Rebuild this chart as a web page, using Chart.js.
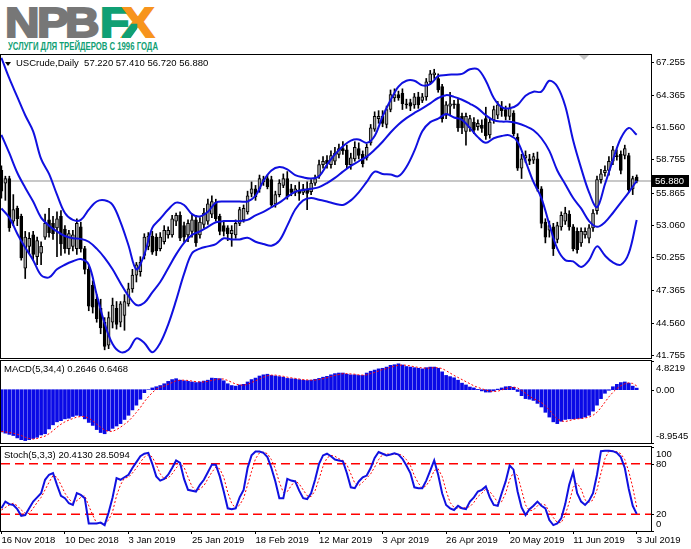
<!DOCTYPE html>
<html>
<head>
<meta charset="utf-8">
<script src="https://cdn.jsdelivr.net/npm/chart.js@4.4.1/dist/chart.umd.min.js"></script>
<style>
  body { margin: 0; background: #fff; width: 691px; height: 549px; overflow: hidden; position: relative; }
  canvas { position: absolute; left: 0; }
  .lg { position: absolute; top: 2px; font: bold 42px/42px "Liberation Sans", Arial, sans-serif; transform: scaleX(1.14); transform-origin: 0 0; -webkit-text-stroke: 2px currentColor; }
  .leg { clip-path: polygon(0% 52%, 48% 52%, 48% 100%, 0% 100%); }
  #tag { position: absolute; left: 8px; top: 40px; font: bold 11px/12px "Liberation Sans Narrow", "Liberation Sans", Arial, sans-serif; color: #10a074; white-space: nowrap; transform-origin: 0 0; }
</style>
</head>
<body>
<div class="lg" style="left:5px;color:#777777">N</div>
<div class="lg" style="left:37px;color:#777777">P</div>
<div class="lg" style="left:65px;color:#777777">B</div>
<div class="lg" style="left:100px;color:#10a074">F</div>
<div class="lg" style="left:122px;color:#f7941d">X</div>
<div class="lg leg" style="left:122px;color:#10a074">X</div>
<div id="tag">УСЛУГИ ДЛЯ ТРЕЙДЕРОВ С 1996 ГОДА</div>

<canvas id="price" width="691" height="305" style="top:54px"></canvas>
<canvas id="macd" width="691" height="84" style="top:360px"></canvas>
<canvas id="stoch" width="691" height="103" style="top:446px"></canvas>

<script>
// USCrude daily, 16 Nov 2018 .. 3 Jul 2019 (161 bars)
const openP = [
  57.8, 56.7, 57.1, 53.4, 54.5, 53.8, 49.3, 51.2, 52.2, 50.3,
  50.6, 52.0, 53.5, 53.2, 52.8, 53.8, 52.7, 51.0, 51.2, 51.0,
  52.9, 51.0, 49.2, 47.8, 46.6, 45.8, 44.6, 42.6, 44.6, 45.8,
  44.6, 45.2, 46.2, 47.5, 48.7, 49.0, 50.4, 51.2, 52.1, 52.0,
  51.0, 51.6, 52.2, 52.2, 53.4, 53.9, 53.0, 52.2, 52.5, 53.5,
  52.2, 53.1, 53.4, 54.0, 55.0, 53.8, 53.0, 52.8, 52.3, 52.2,
  53.2, 53.5, 54.2, 55.8, 56.2, 56.2, 56.8, 57.1, 57.0, 54.9,
  55.7, 56.5, 57.1, 56.2, 55.9, 56.1, 55.9, 56.2, 55.95, 56.7,
  57.3, 58.3, 58.7, 58.3, 58.6, 59.2, 59.7, 59.6, 58.3, 58.8,
  59.7, 59.2, 58.9, 60.2, 61.4, 62.3, 62.5, 61.8, 63.1, 64.1,
  64.4, 64.5, 63.6, 63.7, 63.5, 64.2, 63.9, 64.2, 65.5, 66.1,
  65.8, 65.1, 62.6, 63.4, 63.6, 63.6, 62.5, 61.2, 61.5, 62.0,
  61.6, 61.75, 62.3, 60.9, 62.2, 62.6, 63.3, 63.1, 62.5, 62.8,
  60.7, 58.0, 58.9, 58.8, 58.7, 58.8, 56.2, 53.3, 52.6, 52.9,
  51.8, 52.9, 53.4, 54.0, 52.9, 52.5, 51.5, 52.2, 51.9, 52.8,
  54.3, 57.0, 57.6, 57.8, 58.6, 59.1, 59.2, 59.1, 59.1, 56.2,
  57.22
];
const highP = [
  58.2, 57.3, 57.3, 55.7, 54.7, 54.0, 52.5, 52.4, 52.5, 52.0,
  51.6, 54.0, 54.5, 53.8, 54.2, 54.3, 53.0, 52.6, 52.6, 53.6,
  53.3, 51.2, 49.5, 48.2, 47.0, 46.6, 45.0, 45.5, 46.7, 46.4,
  46.4, 47.0, 48.0, 49.2, 49.8, 50.3, 52.3, 52.4, 52.5, 52.3,
  52.4, 53.0, 52.9, 53.9, 54.1, 54.2, 53.3, 53.5, 54.0, 53.9,
  53.7, 54.5, 55.3, 55.6, 55.3, 54.0, 53.4, 53.0, 53.0, 53.5,
  54.6, 54.8, 56.0, 56.8, 56.5, 57.4, 57.3, 57.4, 57.3, 56.0,
  57.0, 57.5, 57.7, 56.6, 56.5, 56.8, 56.6, 56.8, 57.0, 57.4,
  58.7, 59.0, 59.1, 59.5, 59.8, 60.1, 60.3, 60.0, 59.3, 60.3,
  60.2, 59.5, 60.1, 61.8, 62.9, 63.0, 63.0, 63.4, 64.8, 64.9,
  64.7, 64.9, 64.0, 64.0, 64.5, 64.6, 64.5, 65.8, 66.5, 66.6,
  66.2, 65.3, 63.8, 64.6, 63.9, 64.0, 62.8, 62.8, 62.6, 62.4,
  62.2, 62.2, 63.3, 62.3, 63.4, 63.8, 63.8, 63.4, 63.6, 63.0,
  61.0, 59.2, 59.5, 59.2, 59.3, 59.4, 56.4, 53.6, 53.4, 53.2,
  53.3, 54.2, 54.6, 54.3, 53.1, 52.8, 52.8, 52.8, 53.1, 54.4,
  57.3, 57.9, 58.2, 59.0, 59.9, 59.6, 59.5, 60.0, 59.3, 57.3,
  57.41
];
const lowP = [
  55.4, 55.2, 52.5, 53.0, 53.0, 50.0, 48.4, 50.6, 50.0, 49.6,
  49.6, 51.8, 52.0, 51.8, 50.3, 50.4, 50.6, 50.5, 50.8, 50.5,
  50.7, 48.8, 45.6, 45.4, 44.6, 43.6, 42.2, 42.3, 44.1, 44.0,
  44.2, 43.9, 46.0, 47.2, 48.1, 48.6, 50.1, 50.9, 50.5, 50.4,
  50.8, 51.4, 51.9, 52.0, 53.0, 51.7, 51.6, 51.6, 52.0, 51.2,
  51.9, 52.8, 53.1, 53.7, 53.4, 52.2, 52.1, 51.7, 51.2, 51.9,
  53.0, 53.3, 54.0, 55.5, 55.2, 55.9, 56.5, 56.2, 54.6, 54.6,
  55.5, 56.3, 55.3, 55.6, 55.6, 55.2, 55.7, 54.4, 55.7, 56.5,
  57.1, 58.0, 58.0, 58.0, 58.3, 58.9, 59.2, 58.0, 57.9, 58.6,
  58.8, 58.1, 58.7, 60.0, 61.2, 61.9, 61.6, 61.5, 62.9, 63.8,
  63.9, 63.1, 63.2, 63.0, 63.2, 63.2, 63.7, 63.9, 65.3, 65.8,
  64.6, 62.0, 62.3, 62.6, 63.2, 61.2, 61.0, 60.0, 61.2, 61.0,
  61.3, 61.1, 60.5, 60.6, 61.9, 62.3, 62.5, 62.2, 62.2, 60.8,
  57.8, 57.1, 58.5, 58.3, 58.4, 56.0, 52.8, 51.5, 52.0, 50.4,
  51.5, 52.6, 53.1, 52.6, 50.8, 50.6, 51.2, 51.9, 51.5, 52.5,
  54.0, 56.7, 57.3, 57.4, 58.3, 58.7, 57.5, 58.8, 55.9, 55.7,
  56.72
];
const closeP = [
  56.0, 57.1, 52.8, 54.4, 53.6, 50.2, 52.0, 51.9, 50.5, 51.7,
  51.2, 53.2, 52.4, 52.3, 53.6, 51.4, 51.0, 52.3, 52.2, 53.2,
  51.0, 49.2, 46.0, 45.9, 44.9, 44.1, 42.5, 45.0, 46.1, 44.4,
  46.2, 46.4, 47.5, 48.7, 49.6, 49.8, 52.0, 52.1, 50.7, 50.8,
  52.0, 52.6, 52.6, 53.6, 53.9, 51.9, 52.0, 53.2, 53.5, 51.5,
  53.3, 54.1, 54.9, 55.1, 53.6, 52.5, 52.5, 52.3, 52.6, 53.2,
  54.4, 54.5, 55.6, 56.2, 55.5, 57.1, 57.0, 56.4, 54.8, 55.7,
  56.7, 57.1, 55.5, 55.9, 56.2, 55.8, 56.2, 55.8, 56.7, 57.1,
  58.3, 58.6, 58.4, 59.1, 59.3, 59.7, 59.5, 58.3, 58.9, 59.8,
  59.1, 58.4, 59.8, 61.5, 62.5, 62.5, 61.9, 63.1, 64.4, 64.4,
  64.1, 63.6, 63.5, 63.4, 64.2, 63.5, 64.2, 65.5, 66.2, 66.3,
  64.8, 62.3, 63.5, 63.6, 63.5, 61.5, 61.5, 62.5, 62.3, 61.3,
  61.9, 61.45, 60.8, 62.0, 63.1, 63.5, 63.0, 62.5, 63.2, 61.0,
  58.0, 58.8, 59.1, 58.6, 59.0, 56.2, 53.2, 52.0, 53.0, 51.0,
  53.0, 53.9, 54.1, 52.9, 51.0, 50.9, 52.5, 52.5, 52.8, 54.1,
  57.0, 57.5, 57.8, 58.6, 59.6, 59.0, 57.8, 59.7, 56.1, 57.1,
  56.88
];

// Bollinger bands, read every 2nd bar
const bandStep = 2;
const bbUpper = [
  67.6, 65.8, 64.2, 62.6, 61.2, 58.8, 57.5, 55.7, 54.1, 53.5,
  53.5, 54.4, 55.1, 55.2, 54.8, 53.3, 51.3, 49.2, 50.5, 52.8,
  53.6, 54.4, 55.0, 54.8, 54.0, 53.8, 54.2, 55.0, 55.1, 55.1,
  55.1, 55.1, 55.6, 56.9, 57.8, 58.1, 57.9, 57.4, 57.2, 57.1,
  57.3, 58.3, 59.2, 59.9, 60.4, 60.5, 60.2, 60.8, 62.5, 63.9,
  65.1, 65.6, 65.6, 65.2, 65.3, 66.0, 66.1, 66.15, 66.2, 66.6,
  66.6, 65.6, 64.1, 63.3, 63.2, 63.5, 64.3, 64.65, 64.65, 65.6,
  65.1, 63.4, 60.4, 58.0, 55.9, 54.6, 56.6, 58.7, 60.6, 61.5,
  60.9
];
const bbMiddle = [
  60.9, 59.3, 57.6, 56.3, 55.1, 53.7, 53.0, 52.5, 52.1, 51.9,
  51.85, 51.6, 51.0, 50.2, 49.2, 48.0, 46.9, 46.1, 46.3, 47.2,
  48.1, 49.3, 50.5, 51.5, 52.2, 52.5, 52.9, 53.3, 53.4, 53.4,
  53.4, 53.5, 53.9, 54.2, 54.6, 55.0, 55.5, 55.95, 56.1, 56.2,
  56.35, 56.7, 57.15, 57.7, 58.2, 58.6, 59.0, 59.6, 60.3, 61.1,
  61.8, 62.35, 62.8, 63.2, 63.64, 64.1, 64.35, 64.2, 63.95, 63.6,
  63.2, 62.6, 62.15, 62.05, 62.04, 61.9, 61.65, 61.3, 60.6, 59.5,
  57.8, 56.6, 55.4, 54.5, 53.4, 52.9, 53.3, 54.1, 55.0, 55.9,
  56.9
];
const bbLower = [
  54.5, 53.7, 52.3, 51.1, 50.0, 48.7, 48.5, 49.2, 49.6, 49.9,
  50.1, 49.6, 47.0, 44.5, 42.7, 42.0, 42.2, 43.2, 42.8, 42.0,
  42.8, 44.4, 46.5, 48.8, 50.6, 51.0, 51.2, 51.4, 51.9, 51.8,
  51.8, 51.95, 51.6, 51.4, 51.26, 51.7, 53.0, 54.4, 55.2, 55.4,
  55.25, 55.1, 54.9, 54.8, 55.2, 55.9, 56.8, 57.7, 57.5, 57.45,
  57.3, 58.1, 59.5, 61.2, 62.0, 62.3, 62.7, 62.4, 62.2, 61.5,
  60.7, 60.2, 60.6, 60.8, 60.85, 60.3, 58.6, 56.8, 55.4, 53.1,
  51.0, 50.0, 49.9, 49.4, 50.0, 51.2, 50.4, 49.8, 49.6, 50.6,
  53.5
];

// MACD(5,34,4)
const macdHist = [
  -7.1, -7.3, -7.5, -7.7, -8.1, -8.4, -8.55, -8.4, -8.2, -8.0,
  -7.6, -7.4, -6.6, -5.9, -5.4, -5.2, -4.9, -4.8, -4.5, -4.3,
  -4.4, -4.9, -5.5, -6.0, -6.7, -7.2, -7.4, -6.9, -6.5, -6.1,
  -5.7, -5.0, -4.3, -3.4, -2.6, -1.6, -0.5, 0.0, 0.3, 0.5,
  0.7, 1.0, 1.4, 1.7, 1.85, 1.6, 1.5, 1.4, 1.3, 1.2,
  1.3, 1.45, 1.6, 1.95, 1.9, 1.85, 1.5, 1.0, 0.7, 0.6,
  0.8, 0.9, 1.3, 1.7, 1.95, 2.3, 2.5, 2.6, 2.4, 2.3,
  2.2, 2.1, 1.9, 1.85, 1.8, 1.7, 1.6, 1.55, 1.6, 1.75,
  1.9, 2.1, 2.25, 2.5, 2.7, 2.8, 2.8, 2.6, 2.5, 2.5,
  2.4, 2.4, 2.8, 3.1, 3.3, 3.5, 3.6, 3.8, 4.1, 4.2,
  4.35, 4.15, 3.9, 3.8, 3.7, 3.6, 3.5, 3.7, 3.8, 3.8,
  3.6, 3.0, 2.4, 2.2, 2.0, 1.6, 1.1, 0.8, 0.45, 0.3,
  0.05, -0.2, -0.4, -0.4, -0.2, 0.1, 0.3, 0.5, 0.55, 0.4,
  -0.3, -1.0, -1.5, -1.6, -1.8, -2.3, -2.9, -3.8, -4.6, -5.4,
  -5.7, -5.3, -5.0, -4.9, -4.9, -4.85, -4.8, -4.6, -4.3, -3.6,
  -2.6, -1.5, -0.6, -0.1, 0.5, 0.9, 1.2, 1.3, 1.1, 0.6,
  0.2646
];
const macdSignal = [
  -7.0, -7.1, -7.2, -7.3, -7.5, -7.7, -8.0, -8.2, -8.3, -8.2,
  -8.0, -7.8, -7.4, -6.9, -6.3, -5.8, -5.4, -5.1, -4.85, -4.6,
  -4.5, -4.5, -4.8, -5.2, -5.8, -6.3, -6.8, -7.0, -7.0, -6.7,
  -6.3, -5.8, -5.3, -4.6, -3.8, -3.0, -2.0, -1.2, -0.5, 0.1,
  0.4, 0.6, 0.9, 1.2, 1.5, 1.6, 1.6, 1.55, 1.45, 1.35,
  1.3, 1.3, 1.4, 1.55, 1.7, 1.8, 1.8, 1.55, 1.25, 0.95,
  0.8, 0.75, 0.9, 1.2, 1.5, 1.8, 2.1, 2.35, 2.45, 2.45,
  2.35, 2.25, 2.1, 2.0, 1.9, 1.8, 1.7, 1.65, 1.6, 1.62,
  1.7, 1.85, 2.0, 2.2, 2.4, 2.55, 2.7, 2.7, 2.65, 2.6,
  2.5, 2.45, 2.5, 2.7, 2.9, 3.15, 3.4, 3.55, 3.75, 3.95,
  4.1, 4.15, 4.1, 4.0, 3.85, 3.75, 3.65, 3.6, 3.65, 3.7,
  3.7, 3.55, 3.2, 2.8, 2.4, 2.05, 1.7, 1.35, 1.0, 0.65,
  0.4, 0.15, -0.05, -0.25, -0.3, -0.25, -0.05, 0.2, 0.35, 0.45,
  0.3, -0.1, -0.6, -1.1, -1.5, -1.8, -2.15, -2.7, -3.4, -4.2,
  -4.9, -5.25, -5.35, -5.2, -5.0, -4.9, -4.85, -4.75, -4.6, -4.3,
  -3.8, -3.0, -2.1, -1.2, -0.45, 0.2, 0.65, 1.0, 1.15, 1.05,
  0.6468
];

// Stochastic(5,3,3)
const stochMain = [
  27, 35, 32, 31, 26, 18, 19, 27, 35, 40,
  45, 61, 67, 69, 55, 42, 39, 33, 31, 45,
  43, 39, 9, 9, 9, 10, 7, 22, 40, 63,
  61, 64, 67, 75, 82, 89, 92, 93, 80, 65,
  60, 62, 67, 75, 84, 81, 62, 49, 48, 47,
  55, 61, 70, 79, 79, 65, 47, 27, 26, 27,
  40, 49, 75, 90, 94.5, 94.5, 93, 88, 75, 59,
  39, 39, 62, 60, 59, 48, 39, 38, 45, 61,
  80, 90, 92, 89, 85, 84, 83, 69, 52, 51,
  59, 64, 66, 75, 87, 94, 92, 90, 91, 92.5,
  91, 86, 78, 69, 52, 51, 51, 60, 72, 84,
  67, 45, 31, 27, 25, 30, 27, 26, 35, 40,
  47, 49, 53, 40, 31, 30, 45, 59, 78, 73,
  47, 28, 19, 26, 30, 35, 30, 27, 13, 7,
  9, 15, 32, 55, 70, 45, 35, 31, 36, 45,
  67, 95, 95.5, 95.5, 95, 93, 88, 75, 50, 30,
  20.413
];
const stochSignal = [
  25, 28, 31, 33, 30, 25, 21, 21, 27, 34,
  40, 49, 58, 66, 64, 55, 45, 38, 34, 36,
  40, 42, 30, 19, 9, 9, 9, 13, 23, 42,
  55, 63, 64, 69, 75, 82, 88, 91, 88, 79,
  68, 62, 63, 68, 75, 80, 76, 64, 53, 48,
  50, 54, 62, 70, 76, 74, 64, 46, 33, 27,
  31, 39, 55, 71, 86, 93, 94, 92, 85, 74,
  58, 46, 47, 54, 60, 56, 49, 42, 41, 48,
  62, 77, 87, 90, 89, 86, 84, 79, 68, 57,
  54, 58, 63, 68, 76, 85, 91, 92, 91, 91,
  91.5, 90, 85, 78, 66, 57, 51, 54, 61, 72,
  74, 65, 48, 34, 28, 27, 27, 28, 29, 34,
  41, 45, 50, 47, 41, 34, 35, 45, 61, 70,
  66, 49, 31, 24, 25, 30, 32, 31, 23, 16,
  10, 10, 19, 34, 52, 57, 50, 37, 34, 37,
  49, 69, 86, 95, 95, 94.5, 92, 85, 71, 52,
  28.5094
];
const stochLevels = [80, 20];

const priceTicks = [67.255, 64.365, 61.560, 58.755, 55.865, 53.060, 50.255, 47.365, 44.560, 41.755];
const macdTicks = [4.8219, 0, -8.9545];
const stochTicks = [100, 80, 20, 0];
const dateTickIdx = [0, 16, 32, 48, 64, 80, 96, 112, 128, 144, 160];
const dateTickLabels = ['16 Nov 2018', '10 Dec 2018', '3 Jan 2019', '25 Jan 2019', '18 Feb 2019',
  '12 Mar 2019', '3 Apr 2019', '26 Apr 2019', '20 May 2019', '11 Jun 2019', '3 Jul 2019'];

const X_MIN = -0.1, X_MAX = 163.6;
const FONT = '"Liberation Sans", Arial, sans-serif';
const BLUE = '#1010e0';
const RED = '#ff0000';
const last = closeP.length - 1;

// squeeze the tagline to the logo width
const tag = document.getElementById('tag');
tag.style.transform = 'scaleX(' + (150 / tag.getBoundingClientRect().width) + ')';

const barIdx = closeP.map((_, i) => i);
const bandIdx = bbMiddle.map((_, k) => k * bandStep);
const pts = (idx, vals) => vals.map((v, k) => ({ x: idx[k], y: v }));

function xAxis(show) {
  const ax = {
    type: 'linear', min: X_MIN, max: X_MAX, offset: false, display: show,
    grid: { display: show, offset: false, drawOnChartArea: false, drawTicks: true, tickLength: 3, color: '#000' },
    border: { display: show, color: '#000' }
  };
  if (show) {
    ax.position = 'bottom';
    ax.afterBuildTicks = s => { s.ticks = dateTickIdx.map(v => ({ value: v })); };
    ax.afterFit = s => { s.height = 18; s.paddingLeft = 0; s.paddingRight = 0; };
    ax.ticks = {
      autoSkip: false, maxRotation: 0, minRotation: 0, align: 'start', padding: 1, color: '#000',
      font: { size: 9.5, family: FONT },
      callback: (v, k) => dateTickLabels[k]
    };
  }
  return ax;
}

function baseOptions(yMin, yMax, padBottom, showX) {
  return {
    responsive: false, animation: false, devicePixelRatio: 1,
    layout: { padding: { left: 1, top: 1, right: 40, bottom: padBottom } },
    plugins: { legend: { display: false }, tooltip: { enabled: false } },
    scales: {
      x: xAxis(showX),
      y: { type: 'linear', min: yMin, max: yMax, display: false, beginAtZero: false }
    }
  };
}

// frame, right-hand price axis and window title, MetaTrader style
function panel(opts) {
  return {
    id: 'panel',
    beforeDatasetsDraw(chart) { if (opts.before) opts.before(chart); },
    afterDraw(chart) {
      const { ctx, chartArea: a } = chart;
      const ys = chart.scales.y;
      ctx.save();
      ctx.strokeStyle = '#000';
      ctx.lineWidth = 1;
      ctx.strokeRect(a.left - 0.5, a.top - 0.5, a.right - a.left + 1, a.bottom - a.top + 1);
      ctx.font = '9.5px ' + FONT;
      ctx.fillStyle = '#000';
      ctx.textBaseline = 'middle';
      ctx.textAlign = 'left';
      opts.ticks.forEach(v => {
        const y = Math.round(ys.getPixelForValue(v)) + 0.5;
        ctx.beginPath();
        ctx.moveTo(a.right, y);
        ctx.lineTo(a.right + 3, y);
        ctx.stroke();
        const ty = Math.min(Math.max(y, a.top + opts.clamp), a.bottom - opts.clamp);
        ctx.fillText(opts.fmt(v), a.right + 5, ty);
      });
      ctx.fillText(opts.title, opts.titleX, a.top + 8.5);
      if (opts.after) opts.after(chart);
      ctx.restore();
    }
  };
}

// price window
new Chart(document.getElementById('price'), {
  type: 'bar',
  data: {
    datasets: [
      { type: 'line', data: pts(bandIdx, bbUpper), borderColor: BLUE, borderWidth: 2, pointRadius: 0, tension: 0.35, order: 0 },
      { type: 'line', data: pts(bandIdx, bbMiddle), borderColor: BLUE, borderWidth: 2, pointRadius: 0, tension: 0.35, order: 0 },
      { type: 'line', data: pts(bandIdx, bbLower), borderColor: BLUE, borderWidth: 2, pointRadius: 0, tension: 0.35, order: 0 },
      {
        type: 'bar', order: 1, grouped: false, barThickness: 3,
        data: barIdx.map(i => ({ x: i, y: [openP[i], closeP[i]] })),
        backgroundColor: barIdx.map(i => closeP[i] >= openP[i] ? '#a4a4a4' : '#000'),
        borderColor: '#000', borderWidth: 1, borderSkipped: false
      },
      {
        type: 'bar', order: 2, grouped: false, barThickness: 1,
        data: barIdx.map(i => ({ x: i, y: [lowP[i], highP[i]] })),
        backgroundColor: '#000', borderWidth: 0
      }
    ]
  },
  options: baseOptions(41.49, 67.84, 1, false),
  plugins: [panel({
    ticks: priceTicks, clamp: 0, fmt: v => v.toFixed(3), titleX: 16,
    title: 'USCrude,Daily  ' + [openP[last], highP[last], lowP[last], closeP[last]].map(v => v.toFixed(3)).join(' '),
    before(chart) {
      const { ctx, chartArea: a } = chart;
      const y = chart.scales.y.getPixelForValue(closeP[last]);
      ctx.save();
      ctx.strokeStyle = '#c8c8c8';
      ctx.lineWidth = 2;
      ctx.beginPath();
      ctx.moveTo(a.left, y);
      ctx.lineTo(a.right, y);
      ctx.stroke();
      ctx.restore();
    },
    after(chart) {
      const { ctx, chartArea: a } = chart;
      const y = Math.round(chart.scales.y.getPixelForValue(closeP[last]));
      ctx.fillStyle = '#000';
      ctx.fillRect(a.right + 1, y - 6, 37, 12);
      ctx.fillStyle = '#fff';
      ctx.fillText(closeP[last].toFixed(3), a.right + 4, y + 0.5);
      // window menu marker
      ctx.fillStyle = '#000';
      ctx.beginPath();
      ctx.moveTo(5, a.top + 7); ctx.lineTo(11, a.top + 7); ctx.lineTo(8, a.top + 11);
      ctx.closePath(); ctx.fill();
      // chart shift marker
      ctx.fillStyle = '#c4c4c4';
      ctx.beginPath();
      ctx.moveTo(579, a.top); ctx.lineTo(589, a.top); ctx.lineTo(584, a.top + 5);
      ctx.closePath(); ctx.fill();
    }
  })]
});

// MACD window
new Chart(document.getElementById('macd'), {
  type: 'bar',
  data: {
    datasets: [
      { type: 'line', data: pts(barIdx, macdSignal), borderColor: RED, borderWidth: 1, borderDash: [2, 2], pointRadius: 0, tension: 0, order: 0 },
      { type: 'bar', data: pts(barIdx, macdHist), backgroundColor: '#0a0ae6', barThickness: 3, grouped: false, order: 1 }
    ]
  },
  options: baseOptions(-8.9545, 4.8219, 1, false),
  plugins: [panel({
    ticks: macdTicks, clamp: 7, fmt: v => v === 0 ? '0.00' : v.toFixed(4), titleX: 4,
    title: 'MACD(5,34,4) ' + macdHist[last].toFixed(4) + ' ' + macdSignal[last].toFixed(4)
  })]
});

// Stochastic window
const levelSets = stochLevels.map(l => ({
  type: 'line', data: [{ x: X_MIN, y: l }, { x: X_MAX, y: l }], borderColor: RED, borderWidth: 1.5,
  borderDash: [9, 5], pointRadius: 0, order: 2
}));
new Chart(document.getElementById('stoch'), {
  type: 'bar',
  data: {
    datasets: [
      { type: 'line', data: pts(barIdx, stochMain), borderColor: BLUE, borderWidth: 2, pointRadius: 0, tension: 0, order: 0 },
      { type: 'line', data: pts(barIdx, stochSignal), borderColor: RED, borderWidth: 1, borderDash: [2, 2], pointRadius: 0, tension: 0, order: 1 },
      ...levelSets
    ]
  },
  options: baseOptions(0, 100, 0, true),
  plugins: [panel({
    ticks: stochTicks, clamp: 7, fmt: v => String(v), titleX: 4,
    title: 'Stoch(5,3,3) ' + stochMain[last].toFixed(4) + ' ' + stochSignal[last].toFixed(4)
  })]
});
</script>
</body>
</html>
